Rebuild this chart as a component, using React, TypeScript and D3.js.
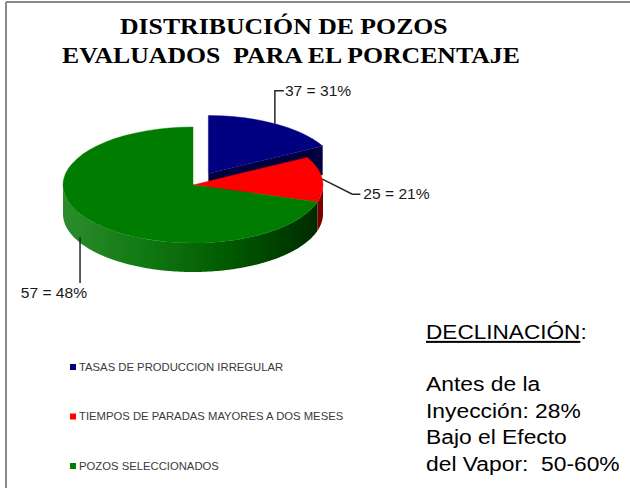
import React, { useEffect, useRef } from "react";
import * as d3 from "d3";

// chart data
const titleLines = ["DISTRIBUCIÓN DE POZOS", "EVALUADOS  PARA EL PORCENTAJE"];
const categories = [
  "TASAS DE PRODUCCION IRREGULAR",
  "TIEMPOS DE PARADAS MAYORES A DOS MESES",
  "POZOS SELECCIONADOS",
];
const wellCounts = [37, 25, 57];
// the slices in the picture do not follow the counts, these are the shares as drawn
const sliceShares = [17.1, 12.6, 70.3];
const noteTitle = "DECLINACIÓN";
const noteLines = ["Antes de la", "Inyección: 28%", "Bajo el Efecto", "del Vapor:  50-60%"];

// styles
const topColors = ["#000080", "#ff0000", "#007d00"];
const wallColors = ["#00003e", "#a00000", "#005000"];
const sideStops = [
  [["0", "#000060"], ["1", "#000030"]],
  [["0", "#c80000"], ["1", "#7a0000"]],
  [["0", "#2c8c2c"], ["0.3", "#127a12"], ["0.65", "#005800"], ["1", "#002800"]],
];

const W = 630;
const H = 488;
const stretch = 1.13; // the picture's text is a bit wide
const cx = 193, cy = 185, rx = 130, ry = 58, depth = 29;
const explodedSlice = 0;
const explodeDist = 30;

// label elbows (layout)
const labelElbow = [
  { dy: -33, tick: 9, side: "up", shift: 0 },
  { dx: 30, dy: 15, tick: 8, side: "right", shift: 0 },
  { dy: 46, side: "down", shift: 0.12 },
];

function addText(g, x, y, str, size, opts: any = {}) {
  const t = g
    .append("text")
    .attr("transform", `translate(${x},${y}) scale(${stretch},1)`)
    .attr("font-family", opts.family || "'Liberation Sans', Arial, sans-serif")
    .attr("font-size", size)
    .attr("font-weight", opts.weight || "normal")
    .attr("fill", opts.fill || "#000")
    .attr("text-anchor", opts.anchor || "start")
    .style("white-space", "pre")
    .text(str);
  return t;
}

export default function App() {
  const ref = useRef<SVGSVGElement>(null);

  useEffect(() => {
    document.body.style.margin = "0";
    const svg = d3.select(ref.current);
    svg.selectAll("*").remove();

    svg.append("rect").attr("width", W).attr("height", H).attr("fill", "#fff");

    // frame (left + top edges only are visible)
    svg.append("line").attr("x1", 6).attr("x2", 6).attr("y1", 2).attr("y2", H)
      .attr("stroke", "#8a8a8a").attr("stroke-width", 2);
    svg.append("line").attr("x1", 6).attr("x2", W).attr("y1", 2).attr("y2", 2)
      .attr("stroke", "#8a8a8a").attr("stroke-width", 2);

    // title
    const serif = "'Liberation Serif', 'Times New Roman', serif";
    addText(svg, 120, 34, titleLines[0], 22.8, { family: serif, weight: "bold" });
    addText(svg, 62, 63, titleLines[1], 22.8, { family: serif, weight: "bold" });

    const defs = svg.append("defs");
    sideStops.forEach((stops, i) => {
      const grad = defs.append("linearGradient")
        .attr("id", "side" + i)
        .attr("gradientUnits", "userSpaceOnUse")
        .attr("x1", cx - rx).attr("x2", cx + rx)
        .attr("y1", 0).attr("y2", 0);
      stops.forEach(s => grad.append("stop").attr("offset", s[0]).attr("stop-color", s[1]));
    });

    // 3d pie
    const k = ry / rx;
    const pie = d3.pie<number>().sort(null).value(d => d);
    const arcs = pie(sliceShares);
    const arcGen = d3.arc<d3.PieArcDatum<number>>().innerRadius(0).outerRadius(rx);
    const line = d3.line();
    const rim = (a: number, ox: number, oy: number, dz = 0): [number, number] =>
      [cx + ox + rx * Math.sin(a), cy + oy - ry * Math.cos(a) + dz];

    const pieG = svg.append("g");
    const anchors: [number, number][] = [];

    arcs.forEach((d, i) => {
      const off = i === explodedSlice ? explodeDist : 0;
      const mid = (d.startAngle + d.endAngle) / 2;
      const ox = off * Math.sin(mid);
      const oy = -off * k * Math.cos(mid);
      const g = pieG.append("g");

      if (off > 0) {
        const c: [number, number] = [cx + ox, cy + oy];
        const p = rim(d.endAngle, ox, oy);
        g.append("path")
          .attr("d", line([c, p, [p[0], p[1] + depth], [c[0], c[1] + depth]]) + "Z")
          .attr("fill", wallColors[i]);
      }

      const a0 = Math.max(d.startAngle, Math.PI / 2);
      const a1 = Math.min(d.endAngle, (3 * Math.PI) / 2);
      if (a1 > a0) {
        const ts = d3.range(a0, a1, 0.01).concat([a1]);
        const top = ts.map(a => rim(a, ox, oy));
        const bottom = ts.map(a => rim(a, ox, oy, depth)).reverse();
        g.append("path")
          .attr("d", line(top.concat(bottom)) + "Z")
          .attr("fill", `url(#side${i})`);
      }

      g.append("path")
        .attr("d", arcGen(d))
        .attr("transform", `translate(${cx + ox},${cy + oy}) scale(1,${k})`)
        .attr("fill", topColors[i])
        .attr("stroke", topColors[i])
        .attr("stroke-width", 0.6);

      const la = mid + labelElbow[i].shift;
      const front = Math.cos(la) < -0.3;
      anchors.push(rim(la, ox, oy, front ? depth * 0.8 : 0));
    });

    // data labels
    const total = d3.sum(wellCounts);
    const labG = svg.append("g");
    wellCounts.forEach((v, i) => {
      const txt = `${v} = ${Math.round((v / total) * 100)}%`;
      const [ax, ay] = anchors[i];
      const e = labelElbow[i];
      let pts: [number, number][];
      let tx: number, ty: number, anchor = "start";
      if (e.side === "up") {
        pts = [[ax, ay], [ax, ay + e.dy], [ax + e.tick, ay + e.dy]];
        tx = ax + e.tick + 1; ty = ay + e.dy + 5;
      } else if (e.side === "right") {
        pts = [[ax, ay], [ax + e.dx, ay + e.dy], [ax + e.dx + e.tick, ay + e.dy]];
        tx = ax + e.dx + e.tick + 3; ty = ay + e.dy + 5;
      } else {
        pts = [[ax, ay], [ax, ay + e.dy]];
        tx = ax + 7; ty = ay + e.dy + 15; anchor = "end";
      }
      labG.append("path").attr("d", line(pts)).attr("fill", "none")
        .attr("stroke", "#262626").attr("stroke-width", 1.5);
      addText(labG, tx, ty, txt, 13.8, { fill: "#1a1a1a", anchor });
    });

    // legend
    const legG = svg.append("g");
    categories.forEach((c, i) => {
      const y = 367 + i * 49.5;
      legG.append("rect").attr("x", 70).attr("y", y - 3).attr("width", 6).attr("height", 6)
        .attr("fill", topColors[i]);
      addText(legG, 79, y + 3.8, c, 10, { fill: "#3a3a3a" });
    });

    // note on the right
    const note = svg.append("text")
      .attr("transform", `translate(426,339) scale(${stretch},1)`)
      .attr("font-family", "'Liberation Sans', Arial, sans-serif")
      .attr("font-size", 20);
    note.append("tspan").style("text-decoration", "underline").text(noteTitle);
    note.append("tspan").text(":");
    noteLines.forEach((s, i) => {
      addText(svg, 426, 391 + i * 26.5, s, 20.2);
    });
  }, []);

  return <svg ref={ref} width={W} height={H} style={{ display: "block" }} />;
}
